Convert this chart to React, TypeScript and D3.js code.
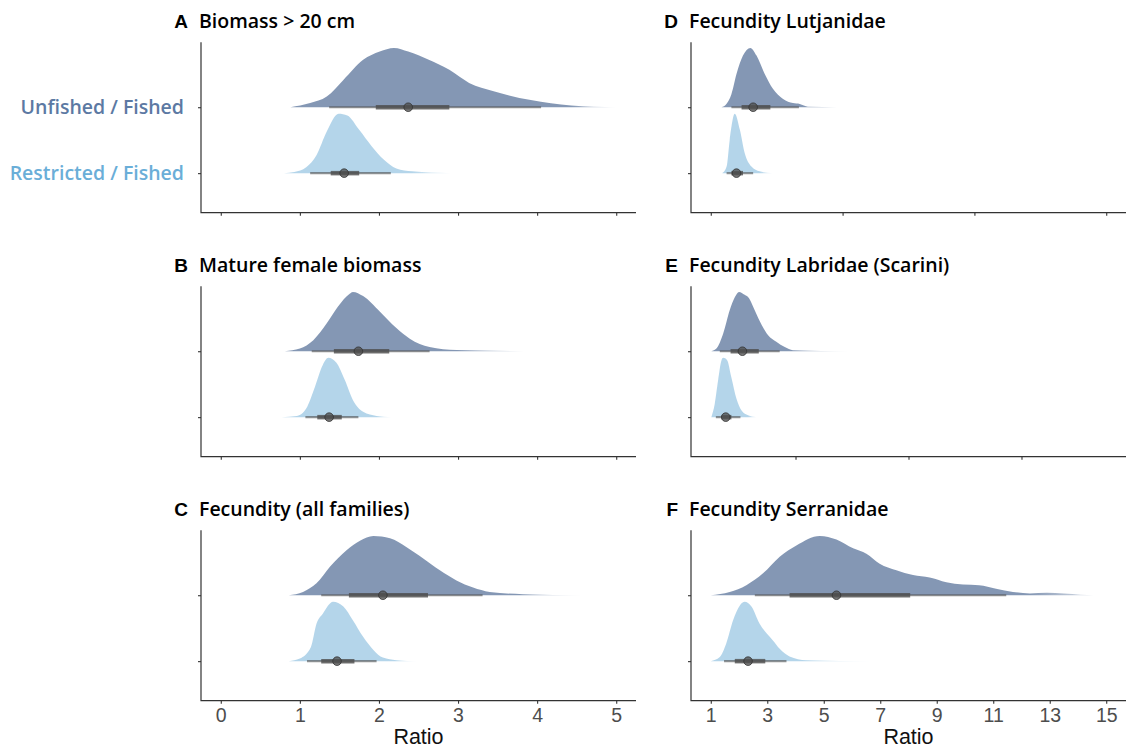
import React, { useEffect, useRef } from "react";
import * as d3 from "d3";

// posterior density traces: [ratio, relative height]
const biomassUnfished = [[0.88,0],[1.13,0.07],[1.34,0.18],[1.55,0.46],[1.8,0.8],[2.01,0.94],[2.19,1],[2.37,0.94],[2.63,0.8],[2.89,0.63],[3.14,0.41],[3.45,0.27],[3.92,0.12],[4.43,0.03],[5.0,0]];
const biomassRestricted = [[0.8,0],[0.93,0.02],[1.08,0.1],[1.21,0.3],[1.34,0.7],[1.49,1],[1.6,0.97],[1.75,0.73],[1.91,0.45],[2.06,0.23],[2.22,0.08],[2.42,0.03],[2.91,0]];
const femaleUnfished = [[0.81,0],[1.0,0.045],[1.17,0.185],[1.34,0.47],[1.48,0.75],[1.63,0.97],[1.67,1],[1.8,0.93],[2.01,0.67],[2.22,0.39],[2.39,0.21],[2.64,0.07],[2.98,0.02],[4.05,0]];
const femaleRestricted = [[0.77,0],[0.96,0.02],[1.08,0.146],[1.19,0.51],[1.29,0.88],[1.36,1],[1.46,0.92],[1.57,0.62],[1.67,0.29],[1.8,0.09],[1.97,0.02],[2.16,0]];
const fecundityUnfished = [[0.86,0],[1.04,0.056],[1.21,0.2],[1.38,0.48],[1.59,0.76],[1.76,0.92],[1.93,1],[2.14,0.96],[2.35,0.81],[2.56,0.62],[2.77,0.42],[2.98,0.25],[3.19,0.13],[3.4,0.056],[3.82,0.017],[4.58,0]];
const fecundityRestricted = [[0.86,0],[1.0,0.045],[1.14,0.24],[1.21,0.63],[1.29,0.8],[1.42,1],[1.55,0.92],[1.67,0.69],[1.8,0.41],[1.93,0.19],[2.05,0.06],[2.22,0.017],[2.49,0]];
const lutjanidaeUnfished = [[1.38,0],[1.56,0.06],[1.73,0.22],[1.91,0.56],[2.14,0.87],[2.4,1],[2.62,0.87],[2.91,0.56],[3.2,0.31],[3.56,0.14],[3.91,0.07],[4.15,0.056],[4.44,0.01],[6.51,0]];
const lutjanidaeRestricted = [[1.41,0],[1.56,0.11],[1.67,0.56],[1.85,1],[2.03,0.73],[2.2,0.34],[2.44,0.11],[2.73,0.03],[3.2,0]];
const scariniUnfished = [[1.02,0],[1.2,0.045],[1.44,0.3],[1.67,0.69],[1.85,0.91],[2.0,1],[2.2,0.95],[2.36,0.89],[2.5,0.75],[2.74,0.5],[3.03,0.27],[3.32,0.16],[3.62,0.07],[3.91,0.017],[5.92,0]];
const scariniRestricted = [[1.02,0],[1.14,0.22],[1.26,0.62],[1.38,0.96],[1.44,1],[1.58,0.96],[1.73,0.67],[1.91,0.31],[2.09,0.11],[2.32,0.03],[2.62,0]];
const serranidaeUnfished = [[1.0,0],[1.67,0.056],[2.26,0.17],[2.85,0.37],[3.44,0.65],[4.03,0.84],[4.86,1],[5.45,0.94],[6.04,0.79],[6.51,0.7],[6.98,0.53],[7.57,0.42],[8.16,0.34],[8.75,0.3],[9.34,0.22],[9.93,0.18],[10.5,0.17],[11.1,0.11],[11.7,0.056],[12.3,0.03],[12.9,0.04],[13.5,0.03],[14.1,0.01],[15,0]];
const serranidaeRestricted = [[1.0,0],[1.32,0.07],[1.55,0.3],[1.79,0.69],[2.03,0.94],[2.2,1],[2.44,0.92],[2.73,0.63],[2.99,0.46],[3.2,0.35],[3.44,0.21],[3.79,0.08],[4.38,0.017],[6.74,0]];

// intervals: [lo95, lo66, median, hi66, hi95] for [restricted, unfished]
const intervals = [
  [[1.13, 1.39, 1.56, 1.75, 2.15], [1.37, 1.96, 2.37, 2.89, 4.05]],
  [[1.07, 1.22, 1.37, 1.53, 1.74], [1.15, 1.43, 1.74, 2.13, 2.64]],
  [[1.09, 1.27, 1.47, 1.69, 1.97], [1.27, 1.62, 2.05, 2.62, 3.31]],
  [[1.56, 1.73, 1.91, 2.14, 2.5], [1.73, 2.09, 2.5, 3.11, 4.12]],
  [[1.18, 1.38, 1.53, 1.73, 2.05], [1.32, 1.70, 2.12, 2.70, 3.44]],
  [[1.47, 1.85, 2.32, 2.93, 3.68], [2.56, 3.79, 5.45, 8.06, 11.46]],
];

const letters = ["A", "B", "C", "D", "E", "F"];
const titles = ["Biomass > 20 cm", "Mature female biomass", "Fecundity (all families)", "Fecundity Lutjanidae", "Fecundity Labridae (Scarini)", "Fecundity Serranidae"];
const densities = [
  [biomassRestricted, biomassUnfished],
  [femaleRestricted, femaleUnfished],
  [fecundityRestricted, fecundityUnfished],
  [lutjanidaeRestricted, lutjanidaeUnfished],
  [scariniRestricted, scariniUnfished],
  [serranidaeRestricted, serranidaeUnfished],
];
const domains = [[0, 5], [0, 5], [0, 5], [1, 15], [1, 15], [1, 15]];
const xTicks = [
  [0, 1, 2, 3, 4, 5], [0, 1, 2, 3, 4, 5], [0, 1, 2, 3, 4, 5],
  [1, 17 / 3, 31 / 3, 15], [4, 8, 12], [1, 3, 5, 7, 9, 11, 13, 15],
];
const categories = ["Restricted / Fished", "Unfished / Fished"];
const xLabel = "Ratio";

const slabFill = ["#b4d5ea", "#8497b4"];
const labelFill = ["#6aaed8", "#5c79a3"];

const App = () => {
  const ref = useRef(null);

  useEffect(() => {
    const svg = d3.select(ref.current);
    svg.selectAll("*").remove();
    const defs = svg.append("defs");

    letters.forEach((letter, i) => {
      const col = i < 3 ? 0 : 1;
      const row = i % 3;
      const left = col ? 691 : 201;
      const right = col ? 1126 : 636;
      const top = 42.3 + row * 244;
      const bottom = 212.7 + row * 244;
      const pad = ((right - left) * 0.05) / 1.1;

      const x = d3.scaleLinear().domain(domains[i]).range([left + pad, right - pad]);
      const y = d3.scaleLinear().domain([0.4, 2.985]).range([bottom, top]);
      const slabH = y(0) - y(0.9);

      const g = svg.append("g");

      // slabs, tails fading out
      densities[i].forEach((dens, k) => {
        const base = y(k + 1);
        const peak = dens.findIndex(d => d[1] === 1);
        let fadeIdx = dens.findIndex((d, j) => j > peak && d[1] <= 0.03);
        if (fadeIdx < 0) fadeIdx = dens.length - 1;
        const x0 = x(dens[0][0]);
        const x1 = x(dens[dens.length - 1][0]);
        const fadeAt = (x(dens[fadeIdx][0]) - x0) / (x1 - x0);
        const id = `fade-${i}-${k}`;
        const grad = defs.append("linearGradient")
          .attr("id", id)
          .attr("gradientUnits", "userSpaceOnUse")
          .attr("x1", x0).attr("x2", x1).attr("y1", 0).attr("y2", 0);
        grad.append("stop").attr("offset", 0).attr("stop-color", slabFill[k]).attr("stop-opacity", 1);
        grad.append("stop").attr("offset", fadeAt).attr("stop-color", slabFill[k]).attr("stop-opacity", 1);
        grad.append("stop").attr("offset", 1).attr("stop-color", slabFill[k]).attr("stop-opacity", 0.15);

        const area = d3.area()
          .x(d => x(d[0]))
          .y0(base)
          .y1(d => base - d[1] * slabH)
          .curve(d3.curveMonotoneX);

        g.append("path")
          .attr("d", area(dens))
          .attr("fill", `url(#${id})`);
      });

      // point + interval
      intervals[i].forEach((iv, k) => {
        const base = y(k + 1);
        g.append("line")
          .attr("x1", x(iv[0])).attr("x2", x(iv[4]))
          .attr("y1", base).attr("y2", base)
          .attr("stroke", "#4d4d4d").attr("stroke-opacity", 0.6)
          .attr("stroke-width", 2.2);
        g.append("line")
          .attr("x1", x(iv[1])).attr("x2", x(iv[3]))
          .attr("y1", base).attr("y2", base)
          .attr("stroke", "#4d4d4d").attr("stroke-opacity", 0.8)
          .attr("stroke-width", 4.5);
        g.append("circle")
          .attr("cx", x(iv[2])).attr("cy", base).attr("r", 4.3)
          .attr("fill", "#4d4d4d").attr("fill-opacity", 0.75)
          .attr("stroke", "#333").attr("stroke-opacity", 0.8).attr("stroke-width", 1);
      });

      // axes
      const showLabels = row === 2;
      const xAxis = g.append("g")
        .attr("transform", `translate(0,${bottom})`)
        .call(d3.axisBottom(x).tickValues(xTicks[i]).tickSize(3).tickPadding(4)
          .tickFormat(d => (showLabels ? d3.format("d")(d) : "")));
      xAxis.select(".domain").remove();
      xAxis.selectAll("line").attr("stroke", "#333").attr("stroke-width", 1.1);
      xAxis.selectAll("text")
        .attr("fill", "#4d4d4d")
        .style("font-family", "'Liberation Sans', Arial, sans-serif")
        .style("font-size", "19.5px");

      const yAxis = g.append("g")
        .attr("transform", `translate(${left},0)`)
        .call(d3.axisLeft(y).tickValues([1, 2]).tickSize(3).tickFormat(() => ""));
      yAxis.select(".domain").remove();
      yAxis.selectAll("line").attr("stroke", "#333").attr("stroke-width", 1.1);

      g.append("path")
        .attr("d", `M${left},${top}V${bottom}H${right}`)
        .attr("fill", "none")
        .attr("stroke", "#333")
        .attr("stroke-width", 1.2);

      // titles
      g.append("text")
        .attr("x", left - 13).attr("y", top - 14)
        .attr("text-anchor", "end")
        .style("font-family", "'Liberation Sans', Arial, sans-serif")
        .style("font-weight", 700)
        .style("font-size", "19px")
        .text(letter);
      g.append("text")
        .attr("x", left - 2).attr("y", top - 14)
        .style("font-family", "'Open Sans', sans-serif")
        .style("font-weight", 600)
        .style("font-size", "19.5px")
        .text(titles[i]);

      if (i === 0) {
        categories.forEach((c, k) => {
          g.append("text")
            .attr("x", left - 17).attr("y", y(k + 1))
            .attr("dy", "0.36em")
            .attr("text-anchor", "end")
            .attr("fill", labelFill[k])
            .style("font-family", "'Open Sans', sans-serif")
            .style("font-weight", 600)
            .style("font-size", "19.5px")
            .text(c);
        });
      }

      if (showLabels) {
        g.append("text")
          .attr("x", (left + right) / 2).attr("y", 744.3)
          .attr("text-anchor", "middle")
          .attr("fill", "#111")
          .style("font-family", "'Liberation Sans', Arial, sans-serif")
          .style("font-size", "21.5px")
          .text(xLabel);
      }
    });
  }, []);

  return (
    <svg
      ref={ref}
      width={1126}
      height={749}
      style={{ position: "absolute", left: 0, top: 0, background: "#fff" }}
    />
  );
};

export default App;
